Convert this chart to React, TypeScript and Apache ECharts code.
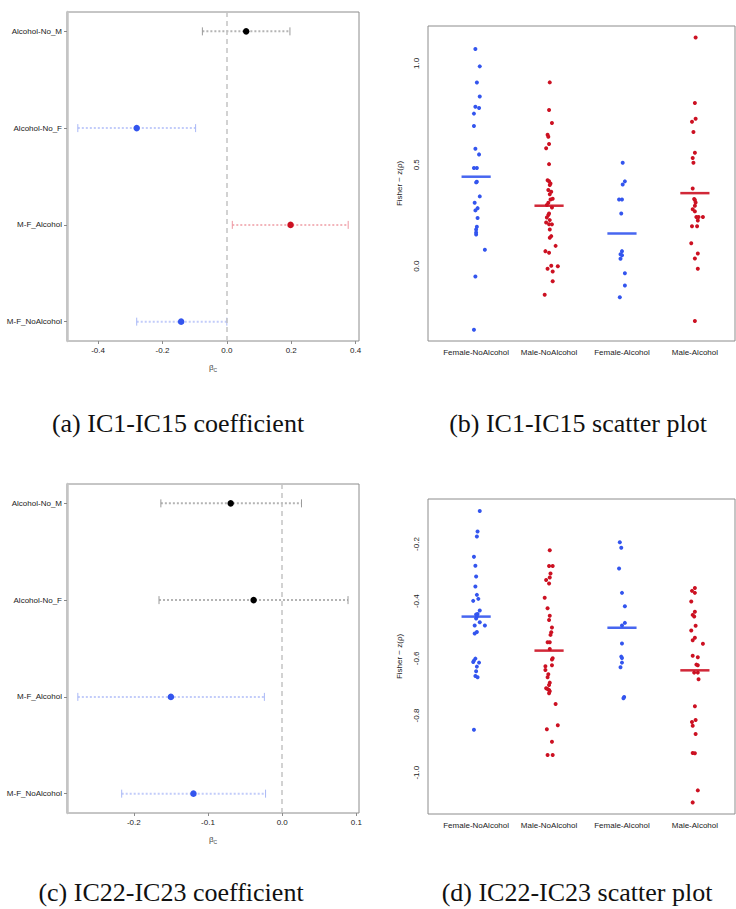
import React, { useEffect, useRef } from "react";
import * as echarts from "echarts";

// ---------- coefficient panels (rows listed bottom -> top) ----------
const coefRows = ["M-F_NoAlcohol", "M-F_Alcohol", "Alcohol-No_F", "Alcohol-No_M"];
const xTicksA = [-0.4, -0.2, 0.0, 0.2, 0.4];
const estA = [-0.142, 0.198, -0.28, 0.06];
const lowA = [-0.28, 0.017, -0.463, -0.076];
const highA = [0.0, 0.377, -0.097, 0.196];
const kindA = [1, 2, 1, 0]; // 0 black, 1 blue, 2 red

const xTicksC = [-0.2, -0.1, 0.0, 0.1];
const estC = [-0.1196, -0.15, -0.0385, -0.0694];
const lowC = [-0.2163, -0.2754, -0.166, -0.1635];
const highC = [-0.0224, -0.024, 0.0887, 0.026];
const kindC = [1, 1, 0, 0];

// ---------- scatter panels ----------
const groups = ["Female-NoAlcohol", "Male-NoAlcohol", "Female-Alcohol", "Male-Alcohol"];
const groupKind = [1, 2, 1, 2];

// [jitter, value]
const b_FemaleNo = [
  [-0.01, 1.071], [0.05, 0.985], [0.01, 0.905], [0.05, 0.836], [-0.01, 0.786], [0.04, 0.78],
  [-0.03, 0.752], [-0.03, 0.691], [-0.01, 0.579], [0.04, 0.551], [-0.03, 0.484], [0.01, 0.484],
  [0.01, 0.416], [0.0, 0.413], [0.05, 0.344], [-0.02, 0.3125], [0.02, 0.286], [-0.01, 0.275],
  [0.02, 0.237], [0.01, 0.194], [0.0, 0.181], [0.0, 0.166], [0.0, 0.156], [0.12, 0.081],
  [-0.01, -0.051], [-0.03, -0.314],
];
const b_MaleNo = [
  [0.01, 0.906], [0.0, 0.77], [0.04, 0.706], [-0.02, 0.648], [-0.01, 0.638], [0.0, 0.602],
  [-0.04, 0.581], [0.0, 0.503], [-0.02, 0.424], [0.0, 0.419], [0.02, 0.408], [0.01, 0.4],
  [-0.01, 0.375], [0.03, 0.367], [0.01, 0.354], [0.05, 0.332], [0.02, 0.329], [-0.01, 0.3125],
  [0.04, 0.289], [-0.03, 0.301], [0.0, 0.26], [-0.01, 0.252], [-0.03, 0.24], [0.01, 0.227],
  [-0.04, 0.215], [0.0, 0.207], [0.04, 0.206], [0.01, 0.181], [0.03, 0.148], [0.01, 0.14],
  [0.09, 0.1], [-0.05, 0.074], [0.0, 0.066], [0.03, 0.002], [0.12, 0.0], [-0.02, -0.013],
  [0.05, -0.026], [0.05, -0.074], [-0.06, -0.141],
];
const b_FemaleAl = [
  [0.01, 0.51], [0.04, 0.418], [0.01, 0.403], [-0.04, 0.329], [0.0, 0.329], [-0.01, 0.26],
  [0.0, 0.074], [-0.02, 0.059], [0.0, 0.054], [-0.02, 0.036], [0.04, -0.035], [0.04, -0.095],
  [-0.03, -0.153],
];
const b_MaleAl = [
  [0.01, 1.127], [0.0, 0.804], [0.01, 0.727], [-0.04, 0.712], [-0.02, 0.661], [0.0, 0.559],
  [-0.03, 0.533], [-0.02, 0.51], [-0.03, 0.383], [-0.01, 0.331], [0.0, 0.326], [0.01, 0.314],
  [0.0, 0.298], [-0.03, 0.281], [0.0, 0.27], [0.02, 0.242], [0.05, 0.242], [0.11, 0.242],
  [0.04, 0.225], [-0.04, 0.197], [0.03, 0.197], [-0.05, 0.113], [0.04, 0.0625], [0.0, 0.038],
  [0.04, -0.013], [0.0, -0.27],
];
const meansB = [0.441, 0.298, 0.161, 0.36];
const yTicksB = [0.0, 0.5, 1.0];

const d_FemaleNo = [
  [0.05, -0.0845], [0.02, -0.156], [0.01, -0.174], [-0.03, -0.245], [-0.01, -0.276], [0.0, -0.314],
  [-0.01, -0.349], [0.01, -0.378], [0.03, -0.392], [-0.04, -0.399], [0.05, -0.433], [0.02, -0.445],
  [0.0, -0.447], [0.01, -0.454], [0.0, -0.461], [0.05, -0.474], [-0.02, -0.485], [0.12, -0.485],
  [0.01, -0.508], [-0.02, -0.513], [-0.01, -0.601], [-0.03, -0.608], [-0.04, -0.613], [0.04, -0.615],
  [0.01, -0.629], [0.0, -0.645], [-0.01, -0.662], [0.02, -0.666], [-0.03, -0.85],
];
const d_MaleNo = [
  [0.01, -0.222], [0.0, -0.277], [0.05, -0.277], [0.02, -0.303], [0.01, -0.317], [-0.04, -0.326],
  [0.0, -0.338], [-0.06, -0.388], [-0.02, -0.425], [0.01, -0.451], [0.0, -0.466], [0.04, -0.492],
  [0.03, -0.509], [0.02, -0.518], [-0.02, -0.544], [0.01, -0.544], [0.01, -0.567], [0.05, -0.6],
  [0.04, -0.604], [0.04, -0.624], [-0.05, -0.628], [-0.05, -0.641], [-0.01, -0.656], [-0.02, -0.666],
  [0.01, -0.685], [0.0, -0.693], [-0.04, -0.705], [-0.02, -0.707], [0.0, -0.711], [0.01, -0.715],
  [0.0, -0.722], [0.09, -0.76], [0.12, -0.834], [-0.03, -0.848], [0.04, -0.892], [-0.02, -0.938],
  [0.05, -0.938],
];
const d_FemaleAl = [
  [-0.03, -0.194], [-0.01, -0.213], [-0.04, -0.286], [0.0, -0.371], [0.04, -0.418], [0.04, -0.476],
  [0.0, -0.485], [0.0, -0.548], [-0.01, -0.594], [0.0, -0.599], [0.0, -0.615], [-0.02, -0.631],
  [0.03, -0.735], [0.02, -0.74],
];
const d_MaleAl = [
  [0.0, -0.354], [-0.04, -0.364], [0.0, -0.371], [-0.05, -0.401], [0.0, -0.437], [-0.03, -0.448],
  [-0.01, -0.454], [0.01, -0.486], [-0.05, -0.503], [0.0, -0.528], [-0.03, -0.537], [0.11, -0.549],
  [-0.03, -0.591], [0.04, -0.596], [0.02, -0.622], [0.04, -0.624], [-0.01, -0.65], [0.04, -0.65],
  [0.05, -0.673], [0.0, -0.768], [0.01, -0.816], [-0.04, -0.823], [-0.03, -0.836], [0.01, -0.865],
  [-0.03, -0.931], [0.0, -0.932], [0.04, -1.062], [-0.03, -1.104],
];
const meansD = [-0.454, -0.573, -0.493, -0.642];
const yTicksD = [-1.0, -0.8, -0.6, -0.4, -0.2];

const captions = [
  "(a) IC1-IC15 coefficient",
  "(b) IC1-IC15 scatter plot",
  "(c) IC22-IC23 coefficient",
  "(d) IC22-IC23 scatter plot",
];

// ---------- styles ----------
const pointColors = ["#000000", "#3355ee", "#cc1122"];
const barColors = ["#b4b4b4", "#c2ccfa", "#f3b4ba"];
const capColors = ["#9a9a9a", "#a9b8f6", "#ee98a2"];
const SANS = "Liberation Sans, Arial, Helvetica, sans-serif";
const SERIF = "Liberation Serif, Times New Roman, serif";
const BORDER = "#8c8c8c";

function coefPanel(idx: number, est: number[], low: number[], high: number[], kind: number[], xMin: number, xMax: number, ticks: number[]) {
  const xAxis = {
    type: "value", gridIndex: idx, min: xMin, max: xMax,
    axisLine: { show: false, onZero: false }, splitLine: { show: false },
    axisTick: { show: true, customValues: ticks, length: 3, lineStyle: { color: BORDER } },
    axisLabel: { customValues: ticks, formatter: (v: number) => v.toFixed(1), fontSize: 8, color: "#222", margin: 5, fontFamily: SANS },
    name: "{b|β}{s|C}", nameLocation: "middle", nameGap: 22,
    nameTextStyle: { rich: { b: { fontSize: 8, color: "#444", fontFamily: SANS }, s: { fontSize: 5, color: "#444", fontFamily: SANS, padding: [4, 0, 0, 0] } } },
  };
  const yAxis = {
    type: "value", gridIndex: idx, min: 0.8, max: 4.2,
    axisLine: { show: true, onZero: false, lineStyle: { color: "#c4c4c4", width: 2.5 } }, splitLine: { show: false },
    axisTick: { show: true, customValues: [1, 2, 3, 4], length: 3, lineStyle: { color: "#888" } },
    axisLabel: { customValues: [1, 2, 3, 4], formatter: (v: number) => coefRows[Math.round(v) - 1], fontSize: 8, color: "#222", margin: 5, fontFamily: SANS },
  };
  const series = [
    {
      type: "custom", xAxisIndex: idx, yAxisIndex: idx, coordinateSystem: "cartesian2d",
      data: est.map((_, i) => [low[i], high[i], i + 1, kind[i]]),
      encode: { x: [0, 1], y: 2 },
      renderItem: (_p: any, api: any) => {
        const y = api.value(2);
        const lo = api.coord([api.value(0), y]);
        const hi = api.coord([api.value(1), y]);
        const k = api.value(3);
        return {
          type: "group",
          children: [
            { type: "line", shape: { x1: lo[0], y1: lo[1], x2: hi[0], y2: hi[1] }, style: { stroke: barColors[k], lineWidth: 2, lineDash: [2, 2] } },
            { type: "line", shape: { x1: lo[0], y1: lo[1] - 4, x2: lo[0], y2: lo[1] + 4 }, style: { stroke: capColors[k], lineWidth: 1 } },
            { type: "line", shape: { x1: hi[0], y1: hi[1] - 4, x2: hi[0], y2: hi[1] + 4 }, style: { stroke: capColors[k], lineWidth: 1 } },
          ],
        };
      },
      z: 2,
    },
    {
      type: "scatter", xAxisIndex: idx, yAxisIndex: idx, symbol: "circle", symbolSize: 6.5,
      data: est.map((v, i) => ({ value: [v, i + 1], itemStyle: { color: pointColors[kind[i]], opacity: 1 } })),
      markLine: {
        silent: true, symbol: ["none", "none"], label: { show: false },
        lineStyle: { color: "#c4c4c4", type: [5, 4], width: 1.5 },
        data: [{ xAxis: 0 }],
      },
      z: 3,
    },
  ];
  return { xAxis, yAxis, series };
}

function scatterPanel(idx: number, data: number[][][], means: number[], yMin: number, yMax: number, ticks: number[]) {
  const xAxis = {
    type: "value", gridIndex: idx, min: 0.34, max: 4.55,
    axisLine: { show: false, onZero: false }, splitLine: { show: false }, axisTick: { show: false },
    axisLabel: { customValues: [1, 2, 3, 4], formatter: (v: number) => groups[Math.round(v) - 1], fontSize: 8, color: "#222", margin: 7, fontFamily: SANS },
  };
  const yAxis = {
    type: "value", gridIndex: idx, min: yMin, max: yMax,
    axisLine: { show: false, onZero: false }, splitLine: { show: false }, axisTick: { show: false },
    axisLabel: { customValues: ticks, formatter: (v: number) => v.toFixed(1), rotate: 90, fontSize: 8, color: "#222", margin: 8, fontFamily: SANS },
    name: "Fisher − z(ρ)", nameLocation: "middle", nameGap: 25, nameRotate: 90,
    nameTextStyle: { fontSize: 8, color: "#222", fontFamily: SANS },
  };
  const series: any[] = data.map((g, gi) => ({
    type: "scatter", xAxisIndex: idx, yAxisIndex: idx, symbol: "circle", symbolSize: 4,
    itemStyle: { color: pointColors[groupKind[gi]], opacity: 1 },
    data: g.map(([j, v]) => [gi + 1 + j, v]),
    z: 3,
  }));
  series.push({
    type: "custom", xAxisIndex: idx, yAxisIndex: idx, coordinateSystem: "cartesian2d",
    data: means.map((m, i) => [i + 1, m, groupKind[i]]),
    encode: { x: 0, y: 1 },
    renderItem: (_p: any, api: any) => {
      const a = api.coord([api.value(0) - 0.2, api.value(1)]);
      const b = api.coord([api.value(0) + 0.2, api.value(1)]);
      return { type: "line", shape: { x1: a[0], y1: a[1], x2: b[0], y2: b[1] }, style: { stroke: pointColors[api.value(2)], lineWidth: 2.5, opacity: 0.9 } };
    },
    z: 4,
  });
  return { xAxis, yAxis, series };
}

export default function App() {
  const ref = useRef<HTMLDivElement>(null);
  useEffect(() => {
    if (!ref.current) return;
    const chart = echarts.init(ref.current, null, { renderer: "svg" });
    const pA = coefPanel(0, estA, lowA, highA, kindA, -0.4966, 0.4106, xTicksA);
    const pB = scatterPanel(1, [b_FemaleNo, b_MaleNo, b_FemaleAl, b_MaleAl], meansB, -0.369, 1.184, yTicksB);
    const pC = coefPanel(2, estC, lowC, highC, kindC, -0.29, 0.1035, xTicksC);
    const pD = scatterPanel(3, [d_FemaleNo, d_MaleNo, d_FemaleAl, d_MaleAl], meansD, -1.1446, -0.0426, yTicksD);
    const gridBase = { show: true, borderColor: BORDER, borderWidth: 1, backgroundColor: "transparent", containLabel: false };
    const capStyle = { fontSize: 26, fontFamily: SERIF, fill: "#111", textAlign: "center", textVerticalAlign: "middle" };
    chart.setOption({
      animation: false,
      backgroundColor: "#ffffff",
      grid: [
        { ...gridBase, left: 67, top: 12, width: 292, height: 329 },
        { ...gridBase, left: 428, top: 26, width: 307, height: 315 },
        { ...gridBase, left: 67, top: 484, width: 292, height: 329 },
        { ...gridBase, left: 428, top: 499, width: 307, height: 315 },
      ],
      xAxis: [pA.xAxis, pB.xAxis, pC.xAxis, pD.xAxis],
      yAxis: [pA.yAxis, pB.yAxis, pC.yAxis, pD.yAxis],
      series: [...pA.series, ...pB.series, ...pC.series, ...pD.series],
      graphic: [
        { type: "text", x: 178, y: 423, style: { ...capStyle, text: captions[0] } },
        { type: "text", x: 578, y: 423, style: { ...capStyle, text: captions[1] } },
        { type: "text", x: 171, y: 892, style: { ...capStyle, text: captions[2] } },
        { type: "text", x: 577, y: 892, style: { ...capStyle, text: captions[3] } },
      ],
    });
    return () => chart.dispose();
  }, []);
  return <div ref={ref} style={{ position: "absolute", left: 0, top: 0, width: 736, height: 909 }} />;
}
